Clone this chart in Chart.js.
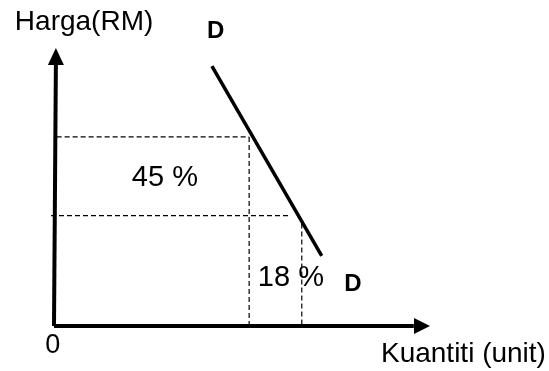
<!DOCTYPE html>
<html>
<head>
<meta charset="utf-8">
<script src="https://cdn.jsdelivr.net/npm/chart.js@4"></script>
<style>
  body { margin: 0; background: #fff; }
  #wrap { width: 549px; height: 371px; }
</style>
</head>
<body>
<div id="wrap"><canvas id="demandChart"></canvas></div>
<script>
// data (quantity on x, price on y, both 0..100)
const demandLine = [{x: 42.0, y: 93.5}, {x: 71.2, y: 25.2}];
const priceHigh = [{x: 0.7, y: 68.0}, {x: 51.9, y: 68.0}];
const qtyHigh = [{x: 51.9, y: 68.0}, {x: 51.9, y: 0}];
const priceLow = [{x: -0.8, y: 39.7}, {x: 62.8, y: 39.7}];
const qtyLow = [{x: 65.9, y: 36.9}, {x: 65.9, y: 0}];
const yAxisLine = [{x: 0, y: 0}, {x: 0.5, y: 94}];
const xAxisLine = [{x: 0, y: 0}, {x: 95.7, y: 0}];
const yArrowTip = {x: 0.5, y: 100};
const xArrowTip = {x: 100, y: 0};

// labels: text, position in chart units
const labels = [
  {text: "Harga(RM)", x: 8, y: 109.4, font: "28px 'Liberation Sans'"},
  {text: "D", x: 43, y: 106, font: "bold 24px 'Liberation Sans'"},
  {text: "45 %", x: 29.5, y: 53.2, font: "29px 'Liberation Sans'"},
  {text: "18 %", x: 63, y: 17.3, font: "29px 'Liberation Sans'"},
  {text: "D", x: 79.5, y: 15.1, font: "bold 24px 'Liberation Sans'"},
  {text: "0", x: -0.3, y: -7.2, font: "27px 'Liberation Sans'"},
  {text: "Kuantiti (unit)", x: 108.9, y: -10, font: "28px 'Liberation Sans'"}
];

function lineSet(data, width, dash) {
  return {
    data: data,
    showLine: true,
    borderColor: "#000",
    borderWidth: width,
    borderDash: dash || [],
    pointRadius: 0,
    clip: false
  };
}

// arrow heads + text
const extras = {
  id: "extras",
  afterDatasetsDraw(chart) {
    const ctx = chart.ctx;
    const xs = chart.scales.x;
    const ys = chart.scales.y;
    ctx.save();
    ctx.fillStyle = "#000";

    // y arrow (pointing up)
    let tx = xs.getPixelForValue(yArrowTip.x), ty = ys.getPixelForValue(yArrowTip.y);
    ctx.beginPath();
    ctx.moveTo(tx, ty);
    ctx.lineTo(tx - 8, ty + 17);
    ctx.lineTo(tx + 8, ty + 17);
    ctx.closePath();
    ctx.fill();

    // x arrow (pointing right)
    tx = xs.getPixelForValue(xArrowTip.x); ty = ys.getPixelForValue(xArrowTip.y);
    ctx.beginPath();
    ctx.moveTo(tx, ty);
    ctx.lineTo(tx - 16, ty - 8);
    ctx.lineTo(tx - 16, ty + 8);
    ctx.closePath();
    ctx.fill();

    ctx.textAlign = "center";
    ctx.textBaseline = "middle";
    labels.forEach(l => {
      ctx.font = l.font;
      ctx.fillText(l.text, xs.getPixelForValue(l.x), ys.getPixelForValue(l.y));
    });
    ctx.restore();
  }
};

new Chart("demandChart", {
  type: "scatter",
  data: {
    datasets: [
      lineSet(yAxisLine, 4),
      lineSet(xAxisLine, 4),
      lineSet(priceHigh, 1.2, [5, 3]),
      lineSet(qtyHigh, 1.2, [5, 3]),
      lineSet(priceLow, 1.2, [5, 3]),
      lineSet(qtyLow, 1.2, [5, 3]),
      lineSet(demandLine, 3.5)
    ]
  },
  options: {
    responsive: true,
    maintainAspectRatio: false,
    animation: false,
    layout: {
      padding: {left: 54, right: 119, top: 48, bottom: 45}
    },
    scales: {
      x: {type: "linear", min: 0, max: 100, display: false},
      y: {type: "linear", min: 0, max: 100, display: false}
    },
    plugins: {
      legend: {display: false},
      tooltip: {enabled: false}
    }
  },
  plugins: [extras]
});
</script>
</body>
</html>
